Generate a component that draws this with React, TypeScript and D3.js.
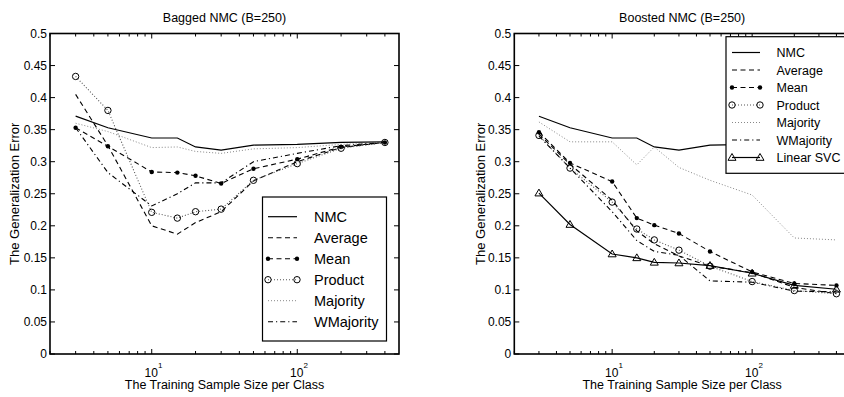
import React from "react";
import * as d3 from "d3";

const sizes = [3, 5, 10, 15, 20, 30, 50, 100, 200, 400];

const baggedNMC = [0.371, 0.353, 0.337, 0.337, 0.323, 0.318, 0.326, 0.327, 0.33, 0.331];
const baggedAverage = [0.405, 0.325, 0.2, 0.187, 0.205, 0.222, 0.27, 0.3, 0.322, 0.33];
const baggedMean = [0.353, 0.324, 0.284, 0.283, 0.278, 0.266, 0.289, 0.304, 0.323, 0.33];
const baggedProduct = [0.433, 0.38, 0.221, 0.212, 0.222, 0.226, 0.271, 0.297, 0.321, 0.33];
const baggedMajority = [0.36, 0.347, 0.322, 0.323, 0.316, 0.313, 0.32, 0.322, 0.327, 0.33];
const baggedWMajority = [0.353, 0.283, 0.231, 0.25, 0.267, 0.267, 0.3, 0.313, 0.325, 0.33];

const boostedNMC = [0.371, 0.353, 0.337, 0.337, 0.323, 0.318, 0.326, 0.327, 0.33, 0.331];
const boostedAverage = [0.343, 0.296, 0.24, 0.192, 0.172, 0.153, 0.137, 0.127, 0.104, 0.094];
const boostedMean = [0.346, 0.298, 0.269, 0.212, 0.201, 0.188, 0.16, 0.128, 0.11, 0.107];
const boostedProduct = [0.341, 0.29, 0.237, 0.195, 0.178, 0.162, 0.137, 0.113, 0.099, 0.094];
const boostedMajority = [0.362, 0.331, 0.331, 0.295, 0.323, 0.291, 0.271, 0.248, 0.181, 0.178];
const boostedWMajority = [0.34, 0.29, 0.222, 0.177, 0.16, 0.154, 0.114, 0.112, 0.098, 0.097];
const boostedSVC = [0.251, 0.202, 0.156, 0.15, 0.143, 0.142, 0.138, 0.126, 0.107, 0.101];

const yTicks = [0, 0.05, 0.1, 0.15, 0.2, 0.25, 0.3, 0.35, 0.4, 0.45, 0.5];
const xMajor = [10, 100];
const xMinor = [2, 3, 4, 5, 6, 7, 8, 9, 20, 30, 40, 50, 60, 70, 80, 90, 200, 300, 400];

type Style = { dash: string; color: string; width: number; marker: "none" | "dot" | "circle" | "tri" };
const styles: Record<string, Style> = {
  NMC: { dash: "none", color: "#000", width: 1.2, marker: "none" },
  Average: { dash: "5,3.5", color: "#000", width: 1.1, marker: "none" },
  Mean: { dash: "5,3.5", color: "#000", width: 1.1, marker: "dot" },
  Product: { dash: "1,2", color: "#555", width: 1.1, marker: "circle" },
  Majority: { dash: "1,2", color: "#888", width: 1, marker: "none" },
  WMajority: { dash: "5,3,1.2,3", color: "#000", width: 1.1, marker: "none" },
  "Linear SVC": { dash: "none", color: "#000", width: 1.2, marker: "tri" },
};

const FONT = "'Liberation Sans', Arial, Helvetica, sans-serif";

function Marker({ kind, x, y }: { kind: string; x: number; y: number }) {
  if (kind === "dot") return <circle cx={x} cy={y} r={2.2} fill="#000" />;
  if (kind === "circle") return <circle cx={x} cy={y} r={3.2} fill="none" stroke="#000" strokeWidth={1} />;
  if (kind === "tri") {
    const s = 4;
    return <path d={`M${x},${y - s}L${x + s},${y + s * 0.7}L${x - s},${y + s * 0.7}Z`} fill="none" stroke="#000" strokeWidth={1} />;
  }
  return null;
}

type Panel = {
  title: string;
  x0: number;
  x1: number;
  series: { name: string; values: number[] }[];
  legend: { x: number; y: number; w: number; h: number; rowH: number; first: number; font: number; lineX0: number; lineX1: number; textX: number };
  rightAxis: boolean;
  ylabelX: number;
};

const Y0 = 354;
const Y1 = 33.5;

function PanelView({ p }: { p: Panel }) {
  const x = d3.scaleLog().domain([2, 500]).range([p.x0, p.x1]);
  const y = d3.scaleLinear().domain([0, 0.5]).range([Y0, Y1]);
  const line = d3
    .line<number>()
    .x((_, i) => x(sizes[i]))
    .y((d) => y(d));
  const cx = (p.x0 + Math.min(p.x1, p.x0 + 349)) / 2;
  const L = p.legend;
  return (
    <g fontFamily={FONT}>
      <text x={cx} y={21.5} textAnchor="middle" fontSize={12.5}>
        {p.title}
      </text>
      {p.series.map((s) => {
        const st = styles[s.name];
        return (
          <g key={s.name}>
            <path d={line(s.values) || ""} fill="none" stroke={st.color} strokeWidth={st.width} strokeDasharray={st.dash} />
            {s.values.map((v, i) => (
              <Marker key={i} kind={st.marker} x={x(sizes[i])} y={y(v)} />
            ))}
          </g>
        );
      })}
      {/* frame */}
      <rect x={p.x0} y={Y1} width={p.x1 - p.x0} height={Y0 - Y1} fill="none" stroke="#000" strokeWidth={1.6} />
      {yTicks.map((t) => (
        <g key={t}>
          <line x1={p.x0} x2={p.x0 + 5} y1={y(t)} y2={y(t)} stroke="#000" strokeWidth={1} />
          {p.rightAxis && <line x1={p.x1} x2={p.x1 - 5} y1={y(t)} y2={y(t)} stroke="#000" strokeWidth={1} />}
          <text x={p.x0 - 3} y={y(t) + 4.2} textAnchor="end" fontSize={12}>
            {String(+t.toFixed(2))}
          </text>
        </g>
      ))}
      {xMajor.map((t) => (
        <g key={t}>
          <line x1={x(t)} x2={x(t)} y1={Y0} y2={Y0 - 5} stroke="#000" strokeWidth={1} />
          <line x1={x(t)} x2={x(t)} y1={Y1} y2={Y1 + 5} stroke="#000" strokeWidth={1} />
          <text x={x(t) - 0.5} y={376.5} textAnchor="middle" fontSize={12}>
            10
          </text>
          <text x={x(t) + 8.5} y={367.5} textAnchor="middle" fontSize={8}>
            {Math.round(Math.log10(t))}
          </text>
        </g>
      ))}
      {xMinor.map((t) => (
        <g key={t}>
          <line x1={x(t)} x2={x(t)} y1={Y0} y2={Y0 - 3} stroke="#000" strokeWidth={1} />
          <line x1={x(t)} x2={x(t)} y1={Y1} y2={Y1 + 3} stroke="#000" strokeWidth={1} />
        </g>
      ))}
      <text x={cx} y={389} textAnchor="middle" fontSize={12.5}>
        The Training Sample Size per Class
      </text>
      <text transform={`translate(${p.ylabelX},${(Y0 + Y1) / 2}) rotate(-90)`} textAnchor="middle" fontSize={13}>
        The Generalization Error
      </text>
      {/* legend */}
      <rect x={L.x} y={L.y} width={L.w} height={L.h} fill="#fff" stroke="#000" strokeWidth={1.2} />
      {p.series.map((s, i) => {
        const st = styles[s.name];
        const ly = L.first + i * L.rowH;
        return (
          <g key={s.name}>
            <line x1={L.lineX0} x2={L.lineX1} y1={ly} y2={ly} stroke={st.color} strokeWidth={st.width} strokeDasharray={st.dash} />
            <Marker kind={st.marker} x={L.lineX0} y={ly} />
            <Marker kind={st.marker} x={L.lineX1} y={ly} />
            <text x={L.textX} y={ly + L.font * 0.36} fontSize={L.font}>
              {s.name}
            </text>
          </g>
        );
      })}
    </g>
  );
}

const leftPanel: Panel = {
  title: "Bagged NMC (B=250)",
  x0: 50,
  x1: 399,
  rightAxis: true,
  ylabelX: 19,
  series: [
    { name: "NMC", values: baggedNMC },
    { name: "Average", values: baggedAverage },
    { name: "Mean", values: baggedMean },
    { name: "Product", values: baggedProduct },
    { name: "Majority", values: baggedMajority },
    { name: "WMajority", values: baggedWMajority },
  ],
  legend: { x: 262.5, y: 197, w: 124, h: 144, rowH: 21, first: 216.7, font: 14.5, lineX0: 268, lineX1: 297, textX: 314 },
};

const rightPanel: Panel = {
  title: "Boosted NMC (B=250)",
  x0: 514.3,
  x1: 850,
  rightAxis: true,
  ylabelX: 485,
  series: [
    { name: "NMC", values: boostedNMC },
    { name: "Average", values: boostedAverage },
    { name: "Mean", values: boostedMean },
    { name: "Product", values: boostedProduct },
    { name: "Majority", values: boostedMajority },
    { name: "WMajority", values: boostedWMajority },
    { name: "Linear SVC", values: boostedSVC },
  ],
  legend: { x: 726, y: 36.7, w: 122, h: 136.6, rowH: 17.5, first: 52.5, font: 12.5, lineX0: 732, lineX1: 760, textX: 776.5 },
};

export default function App() {
  return (
    <svg
      width={844}
      height={397}
      style={{ position: "fixed", left: 0, top: 0, background: "#fff", overflow: "hidden" }}
    >
      <rect width={844} height={397} fill="#fff" />
      <PanelView p={leftPanel} />
      <PanelView p={rightPanel} />
    </svg>
  );
}
